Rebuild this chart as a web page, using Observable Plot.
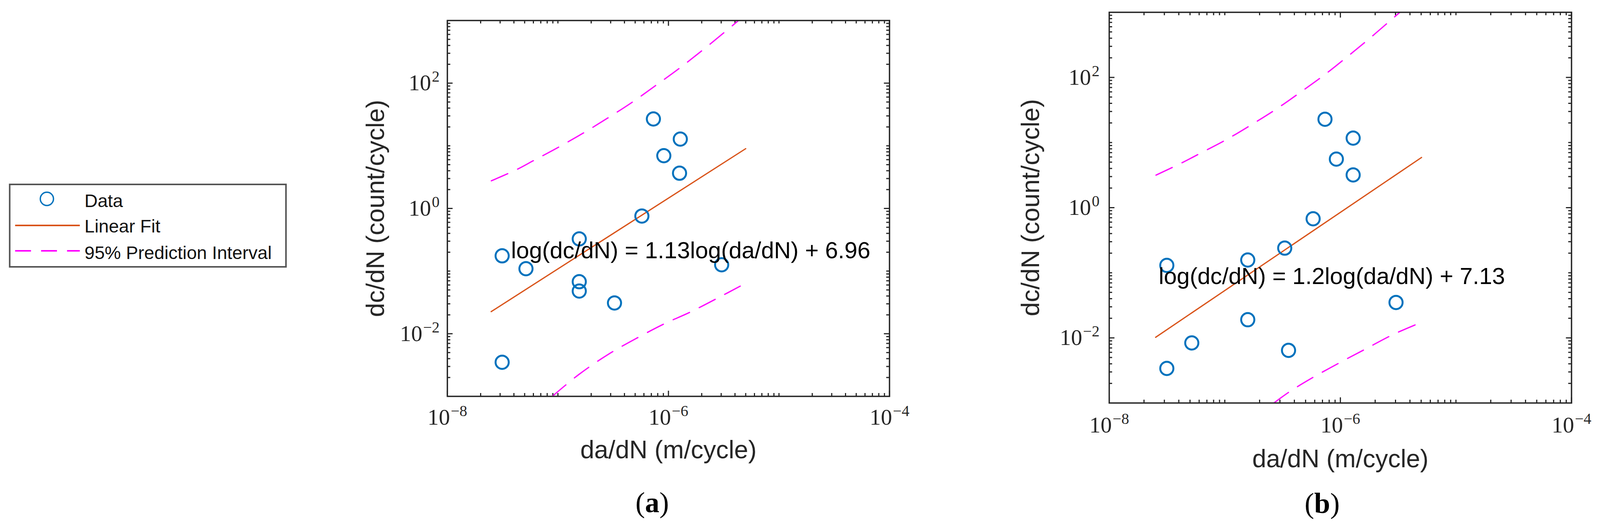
<!DOCTYPE html>
<html><head><meta charset="utf-8">
<script src="https://cdn.jsdelivr.net/npm/d3@7"></script>
<script src="https://cdn.jsdelivr.net/npm/@observablehq/plot@0.6"></script>
<style>
html,body{margin:0;background:#fff;overflow:hidden;}
#page{position:relative;width:4129px;height:1354px;overflow:hidden;background:#fff;transform-origin:0 0;}
.panel{position:absolute;top:0;}
.cap{position:absolute;font-family:"Liberation Serif",serif;font-size:74px;color:#000;transform:translate(-50%,-50%);white-space:nowrap;line-height:1;}
#legend{position:absolute;left:23px;top:470px;width:717px;height:215px;box-sizing:border-box;border:4px solid #555;background:#fff;}
</style></head>
<body><div id="page"></div>
<script>
// ---- shared axis values ----
const xDomain = [1e-8, 1e-4];
const yDomain = [1e-3, 1e3];
const xTickLabels = [1e-8, 1e-6, 1e-4];
const yTickLabels = [1e-2, 1e0, 1e2];
const xLabel = "da/dN (m/cycle)";
const yLabel = "dc/dN (count/cycle)";
const legendLabels = ["Data", "Linear Fit", "95% Prediction Interval"];

// ---- panel (a) ----
const aDataX = [3.13e-8, 3.13e-8, 5.14e-8, 1.56e-7, 1.56e-7, 1.56e-7, 3.25e-7, 5.75e-7, 7.31e-7, 9.08e-7, 1.28e-6, 1.26e-6, 3.03e-6];
const aDataY = [0.175, 0.0035, 0.109, 0.326, 0.0676, 0.048, 0.031, 0.757, 26.8, 6.95, 12.8, 3.65, 0.126];
const aFitX = [2.49e-8, 5.0e-6];
const aFitY = [0.0225, 9.0];
const aUpX = [2.50e-8, 4.33e-8, 5.98e-8, 1.016e-7, 1.70e-7, 2.82e-7, 4.67e-7, 7.59e-7, 1.236e-6, 1.977e-6, 3.12e-6, 4.30e-6];
const aUpY = [2.76, 4.25, 5.77, 9.53, 16.0, 27.7, 49.2, 90.6, 169, 323, 622, 1000];
const aLoX = [8.89e-8, 1.55e-7, 2.87e-7, 5.33e-7, 9.14e-7, 1.57e-6, 2.91e-6, 4.46e-6];
const aLoY = [0.001, 0.00224, 0.00471, 0.00875, 0.01436, 0.0221, 0.0386, 0.0575];
const aEquation = "log(dc/dN) = 1.13log(da/dN) + 6.96";
const aEqPos = [3.77e-8, 0.16];

// ---- panel (b) ----
const bDataX = [3.15e-8, 3.15e-8, 5.18e-8, 1.58e-7, 1.58e-7, 3.30e-7, 3.56e-7, 5.81e-7, 7.36e-7, 9.23e-7, 1.29e-6, 1.29e-6, 3.03e-6];
const bDataY = [0.130, 0.0034, 0.00836, 0.157, 0.019, 0.239, 0.00643, 0.674, 22.8, 5.57, 11.7, 3.18, 0.035];
const bFitX = [2.52e-8, 5.04e-6];
const bFitY = [0.0102, 5.9];
const bUpX = [2.54e-8, 4.34e-8, 6.00e-8, 1.023e-7, 1.694e-7, 2.80e-7, 4.58e-7, 7.36e-7, 1.175e-6, 1.854e-6, 2.91e-6, 3.27e-6];
const bUpY = [3.16, 4.97, 6.70, 11.0, 18.7, 32.8, 60.3, 111, 215, 419, 836, 1000];
const bLoX = [2.66e-7, 3.61e-7, 5.61e-7, 9.66e-7, 1.61e-6, 2.86e-6, 4.93e-6];
const bLoY = [0.001, 0.00148, 0.00239, 0.00408, 0.00659, 0.01127, 0.0171];
const bEquation = "log(dc/dN) = 1.2log(da/dN) + 7.13";
const bEqPos = [2.68e-8, 0.0675];

const ink = "#262626";
const sans = "'Liberation Sans', Arial, Helvetica, sans-serif";
const serif = "'Liberation Serif', 'Times New Roman', serif";
const blue = "#0072BD", orange = "#D95319", magenta = "#FF00FF";
const dash = "46,28";

const zip = (xs, ys) => xs.map((x, i) => ({x, y: ys[i]}));
const supFmt = d => `10^${Math.round(Math.log10(d))}`;

function makePanel(p) {
  const fh = p.height - p.mt - p.mb, fw = p.width - p.ml - p.mr;
  const lg = v => Math.log10(v);
  const isMajor = (v, majors) => majors.some(m => Math.abs(lg(v) - lg(m)) < 1e-6);
  const minorX = d3.scaleLog().domain(xDomain).ticks().filter(v => !isMajor(v, xTickLabels));
  const minorY = d3.scaleLog().domain(yDomain).ticks().filter(v => !isMajor(v, yTickLabels));
  const tk = {stroke: ink, strokeWidth: 3};
  const svg = Plot.plot({
    width: p.width, height: p.height,
    marginLeft: p.ml, marginRight: p.mr, marginTop: p.mt, marginBottom: p.mb,
    x: {type: "log", domain: xDomain},
    y: {type: "log", domain: yDomain},
    style: {background: "transparent", overflow: "visible"},
    marks: [
      Plot.tickX(minorX, {x: d => d, insetTop: fh - 8, ...tk}),
      Plot.tickX(minorX, {x: d => d, insetBottom: fh - 8, ...tk}),
      Plot.tickX(xTickLabels, {x: d => d, insetTop: fh - 14, ...tk}),
      Plot.tickX(xTickLabels, {x: d => d, insetBottom: fh - 14, ...tk}),
      Plot.tickY(minorY, {y: d => d, insetRight: fw - 8, ...tk}),
      Plot.tickY(minorY, {y: d => d, insetLeft: fw - 8, ...tk}),
      Plot.tickY(yTickLabels, {y: d => d, insetRight: fw - 14, ...tk}),
      Plot.tickY(yTickLabels, {y: d => d, insetLeft: fw - 14, ...tk}),
      Plot.line(zip(p.upX, p.upY), {x: "x", y: "y", stroke: magenta, strokeWidth: 3.2, strokeDasharray: dash, curve: "catmull-rom", clip: true}),
      Plot.line(zip(p.loX, p.loY), {x: "x", y: "y", stroke: magenta, strokeWidth: 3.2, strokeDasharray: dash, curve: "catmull-rom", clip: true}),
      Plot.line(zip(p.fitX, p.fitY), {x: "x", y: "y", stroke: orange, strokeWidth: 3.2}),
      Plot.dot(zip(p.dataX, p.dataY), {x: "x", y: "y", r: 17, stroke: blue, strokeWidth: 5, fill: "none"}),
      Plot.text([{x: p.eqPos[0], y: p.eqPos[1], t: p.eq}], {x: "x", y: "y", text: "t", textAnchor: "start", lineAnchor: "bottom", fontSize: 60, fontFamily: sans, fill: "#000"}),
      Plot.frame({stroke: ink, strokeWidth: 3.5}),
      Plot.axisX({anchor: "bottom", ticks: xTickLabels, tickSize: 0, tickPadding: p.xpad, tickFormat: supFmt, fontSize: 58, fontFamily: serif, fill: ink, label: null}),
      Plot.axisY({anchor: "left", ticks: yTickLabels, tickSize: 0, tickPadding: p.ypad, tickFormat: supFmt, fontSize: 58, fontFamily: serif, fill: ink, label: null}),
      Plot.text([xLabel], {frameAnchor: "bottom", dy: p.xlabDy, fontSize: 65, fontFamily: sans, fill: ink, textAnchor: "middle", lineAnchor: "middle"}),
      Plot.text([yLabel], {frameAnchor: "left", dx: p.ylabDx, rotate: -90, fontSize: 65, fontFamily: sans, fill: ink, textAnchor: "middle", lineAnchor: "middle"})
    ]
  });
  const ns = "http://www.w3.org/2000/svg";
  svg.querySelectorAll("text").forEach(t => {
    const m = /^10\^(-?\d+)$/.exec(t.textContent.trim());
    if (!m) return;
    t.textContent = "";
    const a = document.createElementNS(ns, "tspan");
    a.textContent = "10";
    const b = document.createElementNS(ns, "tspan");
    b.textContent = m[1].replace("-", "\u2212");
    b.setAttribute("dy", "-22");
    b.setAttribute("dx", "2");
    b.setAttribute("font-size", "40");
    t.append(a, b);
  });
  const div = document.createElement("div");
  div.className = "panel";
  div.style.left = p.left + "px";
  div.appendChild(svg);
  return div;
}

const page = document.getElementById("page");
page.appendChild(makePanel({
  left: 900, width: 1450, height: 1354, ml: 254, mr: 55, mt: 52, mb: 340,
  dataX: aDataX, dataY: aDataY, fitX: aFitX, fitY: aFitY, upX: aUpX, upY: aUpY, loX: aLoX, loY: aLoY,
  eq: aEquation, eqPos: aEqPos, xpad: 31, ypad: 20, xlabDy: 138, ylabDx: -184
}));
page.appendChild(makePanel({
  left: 2500, width: 1629, height: 1354, ml: 362, mr: 74, mt: 31, mb: 323,
  dataX: bDataX, dataY: bDataY, fitX: bFitX, fitY: bFitY, upX: bUpX, upY: bUpY, loX: bLoX, loY: bLoY,
  eq: bEquation, eqPos: bEqPos, xpad: 34, ypad: 25, xlabDy: 144, ylabDx: -202
}));

// captions
[["a", 1683, 1286], ["b", 3412, 1288]].forEach(([l, x, y]) => {
  const c = document.createElement("div");
  c.className = "cap";
  c.style.left = x + "px"; c.style.top = y + "px";
  c.innerHTML = `(<b>${l}</b>)`;
  page.appendChild(c);
});

// legend
const leg = document.createElement("div");
leg.id = "legend";
leg.innerHTML = `<svg width="709" height="207" viewBox="4 4 709 207" style="display:block">
  <circle cx="98" cy="39" r="17" fill="none" stroke="${blue}" stroke-width="3.5"/>
  <line x1="16" x2="183" y1="107" y2="107" stroke="${orange}" stroke-width="4"/>
  <line x1="16" x2="183" y1="172" y2="172" stroke="${magenta}" stroke-width="4" stroke-dasharray="41,26"/>
  <g font-family="${sans}" font-size="47" fill="#111">
    <text x="195" y="60">${legendLabels[0]}</text>
    <text x="195" y="125">${legendLabels[1]}</text>
    <text x="195" y="193">${legendLabels[2]}</text>
  </g></svg>`;
page.appendChild(leg);

// fit the 4129-wide layout into the actual viewport width
const vw = window.innerWidth || 4129;
if (vw < 4129) page.style.transform = `scaleX(${vw / 4129})`;
</script>
</body></html>
